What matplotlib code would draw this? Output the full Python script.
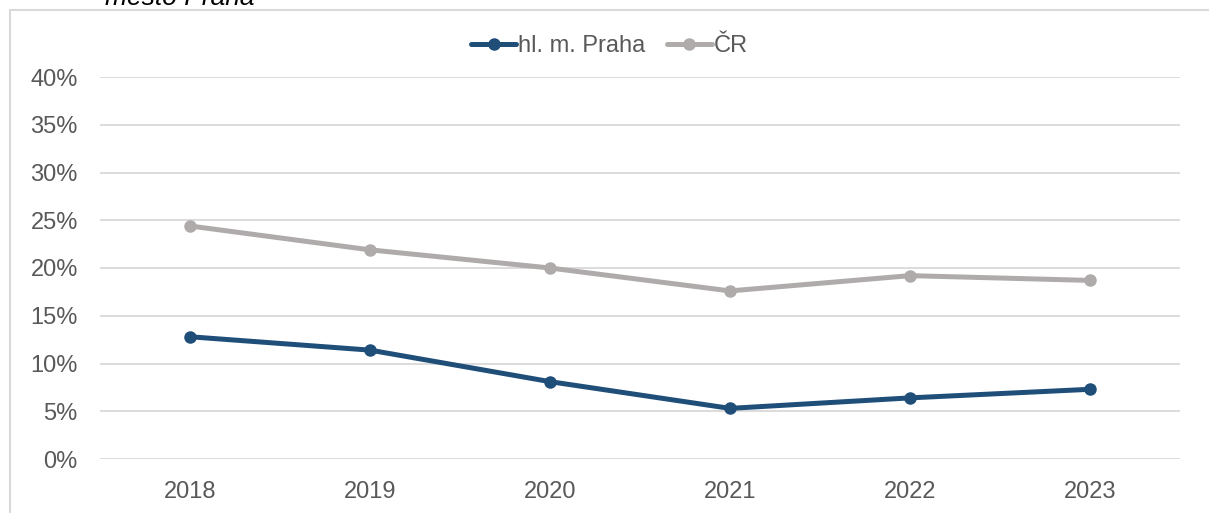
import matplotlib.pyplot as plt
from matplotlib.patches import Rectangle
from matplotlib.ticker import PercentFormatter

plt.rcParams['font.family'] = ['Liberation Sans', 'DejaVu Sans']

years = ['2018', '2019', '2020', '2021', '2022', '2023']
praha = [12.8, 11.4, 8.1, 5.3, 6.4, 7.3]
cr = [24.4, 21.9, 20.0, 17.6, 19.2, 18.7]

W, H = 1209, 513
fig = plt.figure(figsize=(W / 100, H / 100), dpi=100)

# outer chart frame (cut off at bottom/right like the source)
fig.patches.append(Rectangle((10 / W, -0.1), 1.2, (H - 10) / H + 0.1,
                             transform=fig.transFigure, fill=False,
                             edgecolor='#d9d9d9', linewidth=1.5))
# title clipped at the top edge
fig.text(105 / W, (H - 5) / H, 'město Praha', fontsize=19, style='italic',
         color='#000000', va='baseline', ha='left')

ax = fig.add_axes([100 / W, (H - 459) / H, 1080 / W, 382 / H])
x = range(len(years))
ax.plot(x, praha, color='#1f4e79', lw=3.6, marker='o', ms=8,
        label='hl. m. Praha', solid_capstyle='round')
ax.plot(x, cr, color='#afabab', lw=3.6, marker='o', ms=8,
        label='ČR', solid_capstyle='round')

ax.set_xlim(-0.5, len(years) - 0.5)
ax.set_ylim(0, 40)
ax.set_yticks(range(0, 41, 5))
ax.yaxis.set_major_formatter(PercentFormatter(decimals=0))
ax.set_xticks(list(x))
ax.set_xticklabels(years)
ax.grid(axis='y', color='#d9d9d9', lw=1.3)
ax.set_axisbelow(True)
for s in ax.spines.values():
    s.set_visible(False)
ax.tick_params(length=0, labelsize=17, labelcolor='#595959')
ax.tick_params(axis='y', pad=16)
ax.tick_params(axis='x', pad=16)

leg = ax.legend(loc='upper center', bbox_to_anchor=(0.472, 1.165), ncol=2,
                frameon=False, fontsize=17, handlelength=1.9,
                handletextpad=0.1, columnspacing=0.9)
for t in leg.get_texts():
    t.set_color('#595959')

fig.savefig('out.png', dpi=100)
